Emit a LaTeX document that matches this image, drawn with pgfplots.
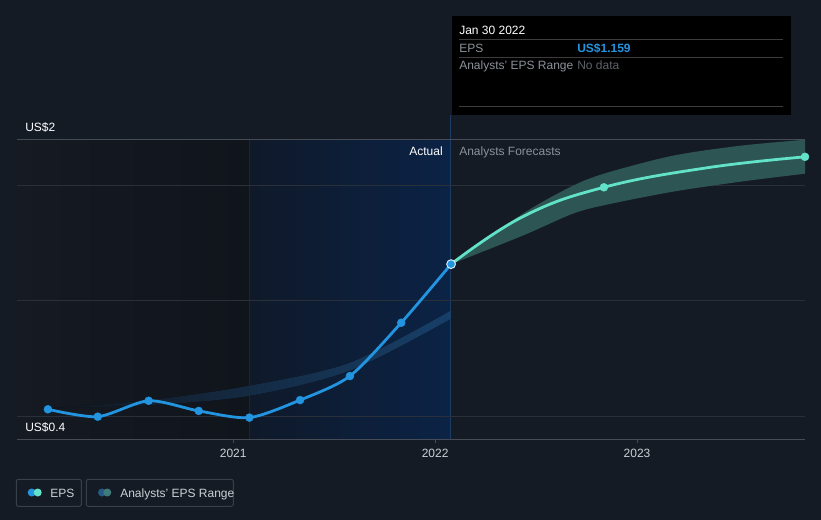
\documentclass[border=0pt]{standalone}
\usepackage{pgfplots}
\pgfplotsset{compat=1.18}
\usepgfplotslibrary{fillbetween}
\usepackage{fontspec}
\setmainfont{Liberation Sans}

\definecolor{bg}{HTML}{151B25}
\definecolor{histL}{HTML}{151A23}
\definecolor{histR}{HTML}{10141B}
\definecolor{actL}{HTML}{0F1929}
\definecolor{actR}{HTML}{0B2346}
\definecolor{sepc}{HTML}{1A2638}
\definecolor{todayc}{HTML}{1C3C64}
\definecolor{gridc}{HTML}{2A303A}
\definecolor{axisc}{HTML}{464C56}
\definecolor{epsblue}{HTML}{2394DF}
\definecolor{fcteal}{HTML}{62E2C8}
\definecolor{fcband}{HTML}{2D5553}
\definecolor{pastL}{HTML}{161D28}
\definecolor{pastband}{HTML}{1F5286}
\definecolor{tickc}{HTML}{CDD0D5}
\definecolor{greyc}{HTML}{8C9199}
\definecolor{dimc}{HTML}{5E6269}
\definecolor{tipline}{HTML}{3C3C3C}
\definecolor{legbox}{HTML}{3A404A}
\definecolor{legblue}{HTML}{255A86}
\definecolor{legteal}{HTML}{3E7C79}

\newcommand{\fs}{\fontsize{9}{10}\selectfont}
% pixel (x,y) of the 821x520 image -> rel axis cs
\newcommand{\px}[2]{(rel axis cs:{(#1-17)/788},{(439.3-#2)/300})}

\begin{document}
\begin{tikzpicture}
\begin{axis}[
  set layers, clip=false,
  at={(12.75pt,-329.475pt)}, anchor=south west,
  scale only axis, width=591pt, height=225pt,
  xmin=2019.929, xmax=2023.832, ymin=0.4, ymax=1.7,
  axis line style={draw=none},
  xtick={2021,2022,2023}, xticklabels={2021,2022,2023},
  xtick pos=bottom, xtick align=outside,
  major tick length=3pt,
  xtick style={axisc, line width=0.75pt},
  ytick={0.5,1,1.5}, yticklabels={},
  ytick style={/pgfplots/major tick length=0pt},
  ymajorgrids, major grid style={gridc, line width=0.75pt},
  ticklabel style={font=\fs, text=tickc},
  /pgf/number format/assume math mode=true,
  xticklabel shift=1pt,
]
\begin{pgfonlayer}{axis background}
\fill[bg] \px{0}{0} rectangle \px{821}{520};
\fill[left color=histL, right color=histR] \px{17}{139.3} rectangle \px{249.3}{439.3};
\fill[left color=actL, right color=actR] \px{249.3}{139.3} rectangle \px{451}{439.3};
\draw[sepc, line width=0.75pt] \px{249.3}{139.3} -- \px{249.3}{439.3};
\draw[todayc, line width=0.75pt] \px{451}{115} -- \px{451}{439.3};
\end{pgfonlayer}
\draw[axisc, line width=0.9pt] (rel axis cs:0,0) -- (rel axis cs:1,0);
\draw[axisc, line width=0.9pt] (rel axis cs:0,1) -- (rel axis cs:1,1);

% past analyst range (faint)
\addplot[name path=pu, draw=none, smooth] coordinates {
(2020.082,0.534)(2020.587,0.570)(2021.078,0.632)(2021.578,0.732)(2022.078,0.958)};
\addplot[name path=pl, draw=none, smooth] coordinates {
(2020.082,0.534)(2020.587,0.548)(2021.078,0.588)(2021.578,0.698)(2022.078,0.922)};
\addplot[left color=pastL, right color=pastband, fill opacity=0.75, draw=none] fill between[of=pu and pl];

% forecast range
\addplot[name path=fu, draw=none, smooth] coordinates {
(2022.079,1.159)(2022.435,1.378)(2022.683,1.499)(2022.851,1.555)(2023.178,1.629)(2023.510,1.672)(2023.832,1.698)};
\addplot[name path=fl, draw=none, smooth] coordinates {
(2022.079,1.159)(2022.435,1.283)(2022.683,1.378)(2022.851,1.417)(2023.178,1.473)(2023.510,1.516)(2023.832,1.551)};
\addplot[fcband, draw=none] fill between[of=fu and fl];

% forecast EPS
\addplot[fcteal, line width=2.1pt, smooth, tension=0.7, mark=*, mark size=3pt, mark indices={3,5},
  mark options={fill=fcteal, draw=fcteal, line width=0.3pt}] coordinates {
(2022.079,1.159)(2022.435,1.365)(2022.836,1.492)(2023.350,1.577)(2023.832,1.624)};

% actual EPS
\addplot[epsblue, line width=2.1pt, smooth, tension=0.45, mark=*, mark size=3pt,
  mark options={fill=epsblue, draw=epsblue, line width=0.3pt}] coordinates {
(2020.082,0.530)(2020.329,0.498)(2020.581,0.567)(2020.829,0.523)(2021.080,0.494)
(2021.331,0.570)(2021.578,0.674)(2021.832,0.905)(2022.079,1.159)};
\addplot[only marks, mark=*, mark size=3.3pt,
  mark options={fill=epsblue, draw=white!85!epsblue, line width=0.7pt}] coordinates {
(2022.079,1.159)};
\end{axis}

% texts, tooltip, legend (pixel coordinates)
\begin{scope}[x=0.75pt,y=-0.75pt]
\path[use as bounding box] (0,0) rectangle (821,520);
\node[anchor=base west, inner sep=0, text=white, font=\fs] at (25,132) {US\$2};
\node[anchor=base west, inner sep=0, text=white, font=\fs] at (25,431.5) {US\$0.4};
\node[anchor=base east, inner sep=0, text=white, font=\fs] at (443,155.5) {Actual};
\node[anchor=base west, inner sep=0, text=greyc, font=\fs] at (459,155.5) {Analysts Forecasts};

\fill[black] (452,16) rectangle (791,115);
\draw[tipline, line width=0.75pt] (459,40) -- (783,40);
\draw[tipline, line width=0.75pt] (459,57.3) -- (783,57.3);
\draw[tipline, line width=0.75pt] (459,106.7) -- (783,106.7);
\node[anchor=base west, inner sep=0, text=white, font=\fs] at (459,35) {Jan 30 2022};
\node[anchor=base west, inner sep=0, text=greyc, font=\fs] at (459,52.5) {EPS};
\node[anchor=base west, inner sep=0, text=epsblue, font=\fs\bfseries] at (577,52.5) {US\$1.159};
\node[anchor=base west, inner sep=0, text=greyc, font=\fs] at (459,69.5) {Analysts' EPS Range};
\node[anchor=base west, inner sep=0, text=dimc, font=\fs] at (577,69.5) {No data};

\draw[legbox, line width=0.75pt, rounded corners=1.5pt] (16.3,479.3) rectangle (81.3,506.3);
\draw[legbox, line width=0.75pt, rounded corners=1.5pt] (86.3,479.3) rectangle (233.3,506.3);
\fill[epsblue] (31.7,492.5) circle[radius=4];
\fill[fcteal] (37.7,492.5) circle[radius=4];
\fill[legblue] (102,492.5) circle[radius=4];
\fill[legteal] (107.3,492.5) circle[radius=4];
\node[anchor=base west, inner sep=0, text=tickc, font=\fs] at (50,497) {EPS};
\node[anchor=base west, inner sep=0, text=tickc, font=\fs] at (120,497) {Analysts' EPS Range};
\end{scope}
\end{tikzpicture}
\end{document}
